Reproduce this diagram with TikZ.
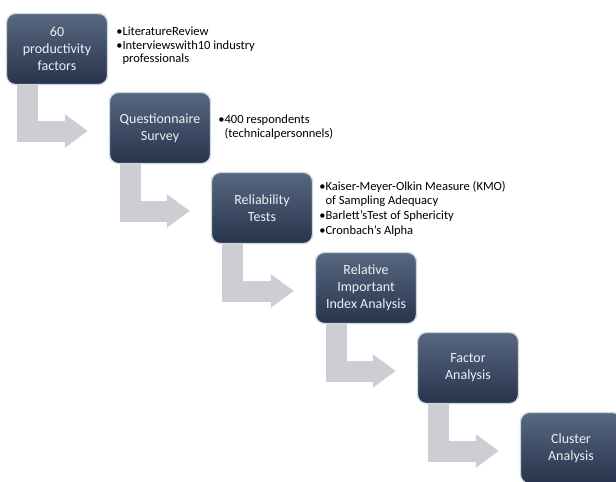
\documentclass[tikz,border=0pt]{standalone}
\usepackage{fontspec}
\setmainfont{Carlito}
\usetikzlibrary{arrows.meta,positioning}

\definecolor{slatetop}{RGB}{88,104,128}
\definecolor{slatebot}{RGB}{38,52,76}
\definecolor{slateedge}{RGB}{206,213,222}
\definecolor{boxtext}{RGB}{236,240,245}
\definecolor{bendgray}{RGB}{204,206,211}

\begin{document}
\begin{tikzpicture}[
    x=1pt, y=-1pt,
    stage/.style={draw=slateedge, line width=1.3pt, rounded corners=9pt,
                  top color=slatetop, bottom color=slatebot,
                  minimum width=101pt, minimum height=71pt,
                  text=boxtext, align=center,
                  font=\fontsize{14}{17}\selectfont},
    elbow/.style={draw=bendgray, line width=21pt,
                 -{Triangle[length=23pt, width=32pt]}},
    note/.style={font=\fontsize{12.5}{13.5}\selectfont, align=left,
                 anchor=west, inner sep=0pt},
]
    \useasboundingbox (0,0) rectangle (616,482);
    \clip (0,0) rectangle (616,482);

    \node[stage] (factors) at (57,49) {60\\productivity\\factors};
    \node[stage] (survey) at (160,128) {Questionnaire\\Survey};
    \node[stage] (reliab) at (262,208) {Reliability\\Tests};
    \node[stage] (rii) at (366,288) {Relative\\Important\\Index Analysis};
    \node[stage] (factor) at (468,368) {Factor\\Analysis};
    \node[stage] (cluster) at (571,448) {Cluster\\Analysis};

    % bent arrows between the stages
    \draw[elbow] ([xshift=-29.5pt]factors.south) |- ([xshift=-21pt,yshift=-3pt]survey.west);
    \draw[elbow] ([xshift=-29.5pt]survey.south) |- ([xshift=-21pt,yshift=-3pt]reliab.west);
    \draw[elbow] ([xshift=-29.5pt]reliab.south) |- ([xshift=-21pt,yshift=-3pt]rii.west);
    \draw[elbow] ([xshift=-29.5pt]rii.south) |- ([xshift=-21pt,yshift=-3pt]factor.west);
    \draw[elbow] ([xshift=-29.5pt]factor.south) |- ([xshift=-21pt,yshift=-3pt]cluster.west);

    % notes beside the stages
    \node[note] (n1) at ([xshift=8pt,yshift=3pt]factors.east)
        {•LiteratureReview\\•Interviewswith10 industry\\\phantom{•}professionals};
    \node[note] (n2) at ([xshift=7pt,yshift=1pt]survey.east)
        {•400 respondents\\\phantom{•}(technicalpersonnels)};
    \node[note] (n3) at ([xshift=6pt,yshift=-1pt]reliab.east)
        {•Kaiser-Meyer-Olkin Measure (KMO)\\\phantom{•}of Sampling Adequacy\\[2pt]
         •Barlett’sTest of Sphericity\\[1pt]•Cronbach’s Alpha};

\end{tikzpicture}
\end{document}
